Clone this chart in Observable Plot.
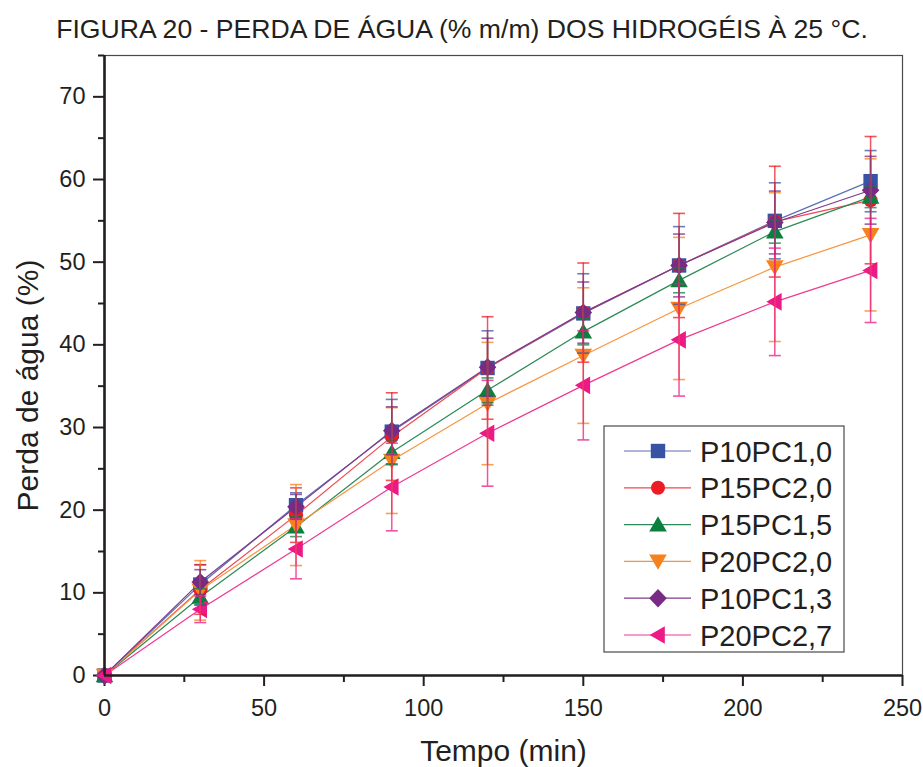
<!DOCTYPE html>
<html>
<head>
<meta charset="utf-8">
<script src="https://cdn.jsdelivr.net/npm/d3@7"></script>
<script src="https://cdn.jsdelivr.net/npm/@observablehq/plot@0.6"></script>
<style>
  html, body { margin: 0; padding: 0; background: #fff; }
  #chart { width: 923px; height: 767px; }
</style>
</head>
<body>
<div id="chart"></div>
<script>
// ---------- data ----------
const times = [0, 30, 60, 90, 120, 150, 180, 210, 240];
const seriesNames = ["P10PC1,0", "P15PC2,0", "P15PC1,5", "P20PC2,0", "P10PC1,3", "P20PC2,7"];
const p10pc10 = [0, 11.0, 20.6, 29.5, 37.2, 43.8, 49.6, 55.0, 59.8];
const p15pc20 = [0, 10.4, 19.4, 28.9, 37.2, 43.9, 49.6, 54.9, 57.5];
const p15pc15 = [0, 9.5, 18.0, 27.0, 34.5, 41.6, 47.8, 53.7, 57.9];
const p20pc20 = [0, 10.3, 18.2, 26.0, 32.9, 38.7, 44.4, 49.4, 53.3];
const p10pc13 = [0, 11.3, 20.4, 29.6, 37.3, 43.9, 49.6, 54.8, 58.7];
const p20pc27 = [0, 8.0, 15.3, 22.8, 29.3, 35.1, 40.6, 45.2, 49.0];
const err10pc10 = [0, 2.4, 1.5, 3.9, 4.5, 4.8, 4.7, 4.6, 3.7];
const err15pc20 = [0, 3.0, 3.3, 5.3, 6.2, 6.0, 6.3, 6.7, 7.7];
const err15pc15 = [0, 1.0, 1.2, 1.5, 1.5, 1.6, 1.5, 1.4, 1.3];
const err20pc20 = [0, 3.6, 4.9, 6.4, 7.4, 8.2, 8.6, 9.0, 9.2];
const err10pc13 = [0, 1.5, 1.5, 2.9, 3.5, 3.7, 3.8, 3.8, 4.1];
const err20pc27 = [0, 1.6, 3.6, 5.3, 6.4, 6.6, 6.8, 6.5, 6.3];
const xTicks = [0, 50, 100, 150, 200, 250];
const xMinor = [25, 75, 125, 175, 225];
const yTicks = [0, 10, 20, 30, 40, 50, 60, 70];
const yMinor = [5, 15, 25, 35, 45, 55, 65, 75];
const titleText = "FIGURA 20 - PERDA DE ÁGUA (% m/m) DOS HIDROGÉIS À 25 °C.";
const xLabel = "Tempo (min)";
const yLabel = "Perda de água (%)";

const values = [p10pc10, p15pc20, p15pc15, p20pc20, p10pc13, p20pc27];
const errors = [err10pc10, err15pc20, err15pc15, err20pc20, err10pc13, err20pc27];
const colors = ["#3953a4", "#ed1c24", "#0b7f3f", "#f6821f", "#772b84", "#ec1a86"];
const lineColors = ["#5a6fb5", "#ef4a50", "#2a8a55", "#f7953f", "#7f3a8c", "#ee3a92"];

// ---------- symbols ----------
const rad = s => Math.sqrt(s / Math.PI);
const symSquare = {draw(c, s) { const r = rad(s) * 0.9; c.rect(-r, -r, 2 * r, 2 * r); }};
const symCircle = {draw(c, s) { const r = rad(s) * 0.88; c.moveTo(r, 0); c.arc(0, 0, r, 0, 2 * Math.PI); }};
const symTriUp = {draw(c, s) { const r = rad(s); c.moveTo(0, -1.05 * r); c.lineTo(1.1 * r, 0.85 * r); c.lineTo(-1.1 * r, 0.85 * r); c.closePath(); }};
const symTriDown = {draw(c, s) { const r = rad(s); c.moveTo(0, 1.05 * r); c.lineTo(1.1 * r, -0.85 * r); c.lineTo(-1.1 * r, -0.85 * r); c.closePath(); }};
const symDiamond = {draw(c, s) { const r = rad(s); c.moveTo(0, -1.15 * r); c.lineTo(1.1 * r, 0); c.lineTo(0, 1.15 * r); c.lineTo(-1.1 * r, 0); c.closePath(); }};
const symTriLeft = {draw(c, s) { const r = rad(s); c.moveTo(-1.05 * r, 0); c.lineTo(0.85 * r, -1.1 * r); c.lineTo(0.85 * r, 1.1 * r); c.closePath(); }};
const symCap = {draw(c, s) { const r = rad(s); c.moveTo(-r, 0); c.lineTo(r, 0); }};
const symbols = [symSquare, symCircle, symTriUp, symTriDown, symDiamond, symTriLeft];

const table = seriesNames.map((name, i) =>
  times.map((t, j) => ({series: name, i, t, v: values[i][j], e: errors[i][j]})));
const font = "'Liberation Sans', Arial, Helvetica, sans-serif";
const ink = "#231f20";

const marks = [
  Plot.frame({stroke: "#4a4a4a", strokeWidth: 1.2}),
  Plot.axisX(xMinor, {tickSize: 7, strokeWidth: 2, stroke: ink, tickFormat: () => "", label: null}),
  Plot.axisY(yMinor, {tickSize: 6, strokeWidth: 2, stroke: ink, tickFormat: () => "", label: null}),
  Plot.axisX(xTicks, {tickSize: 11, tickPadding: 13, strokeWidth: 2, stroke: ink, fill: ink, fontSize: 23.5, label: null}),
  Plot.axisY(yTicks, {tickSize: 11, tickPadding: 8, strokeWidth: 2, stroke: ink, fill: ink, fontSize: 23.5, label: null}),
];
// lines
table.forEach((rows, i) => {
  marks.push(Plot.line(rows, {x: "t", y: "v", stroke: lineColors[i], strokeWidth: 1.2}));
});
// markers
table.forEach((rows, i) => {
  marks.push(Plot.dot(rows, {x: "t", y: "v", symbol: symbols[i], r: 8, fill: colors[i], stroke: "none"}));
});
// error bars
table.forEach((rows, i) => {
  const eb = rows.filter(d => d.e > 0);
  marks.push(Plot.ruleX(eb, {x: "t", y1: d => d.v - d.e, y2: d => d.v + d.e, stroke: colors[i], strokeWidth: 1.5, strokeOpacity: 0.75}));
  marks.push(Plot.dot(eb, {x: "t", y: d => d.v + d.e, symbol: symCap, r: 6, fill: "none", stroke: colors[i], strokeWidth: 1.6, strokeOpacity: 0.75}));
  marks.push(Plot.dot(eb, {x: "t", y: d => d.v - d.e, symbol: symCap, r: 6, fill: "none", stroke: colors[i], strokeWidth: 1.6, strokeOpacity: 0.75}));
});
marks.push(
  Plot.ruleX([0], {stroke: ink, strokeWidth: 2.6}),
  Plot.ruleY([0], {stroke: ink, strokeWidth: 2.6}),
  Plot.text([titleText], {frameAnchor: "top", textAnchor: "middle", dx: -41.5, dy: -18, lineAnchor: "bottom", fontSize: 26.6, fill: ink}),
  Plot.text([xLabel], {frameAnchor: "bottom", textAnchor: "middle", dy: 85, lineAnchor: "bottom", fontSize: 30, fill: ink}),
  Plot.text([yLabel], {frameAnchor: "left", textAnchor: "middle", dx: -67, dy: 20, rotate: -90, lineAnchor: "bottom", fontSize: 30, fill: ink})
);

const chart = Plot.plot({
  width: 923, height: 767,
  marginTop: 55, marginLeft: 104, marginRight: 21, marginBottom: 92,
  style: {fontFamily: font, background: "#fff", color: ink, overflow: "visible"},
  x: {domain: [0, 250]},
  y: {domain: [0, 75]},
  marks
});
document.getElementById("chart").appendChild(chart);

// ---------- legend ----------
const svg = d3.select(chart);
const lg = svg.append("g").attr("font-family", font).attr("text-anchor", "start");
lg.append("rect").attr("x", 604).attr("y", 426).attr("width", 240).attr("height", 226)
  .attr("fill", "#fff").attr("stroke", "#4a4a4a").attr("stroke-width", 1.2);
seriesNames.forEach((name, i) => {
  const cy = 451 + i * 36.8;
  lg.append("line").attr("x1", 624).attr("x2", 691).attr("y1", cy).attr("y2", cy)
    .attr("stroke", lineColors[i]).attr("stroke-width", 1.2);
  lg.append("path").attr("d", d3.symbol(symbols[i], Math.PI * 64)())
    .attr("transform", `translate(658,${cy})`).attr("fill", colors[i]);
  lg.append("text").attr("x", 700).attr("y", cy + 10.5).attr("font-size", 29)
    .attr("text-anchor", "start").attr("fill", ink).text(name);
});
</script>
</body>
</html>
